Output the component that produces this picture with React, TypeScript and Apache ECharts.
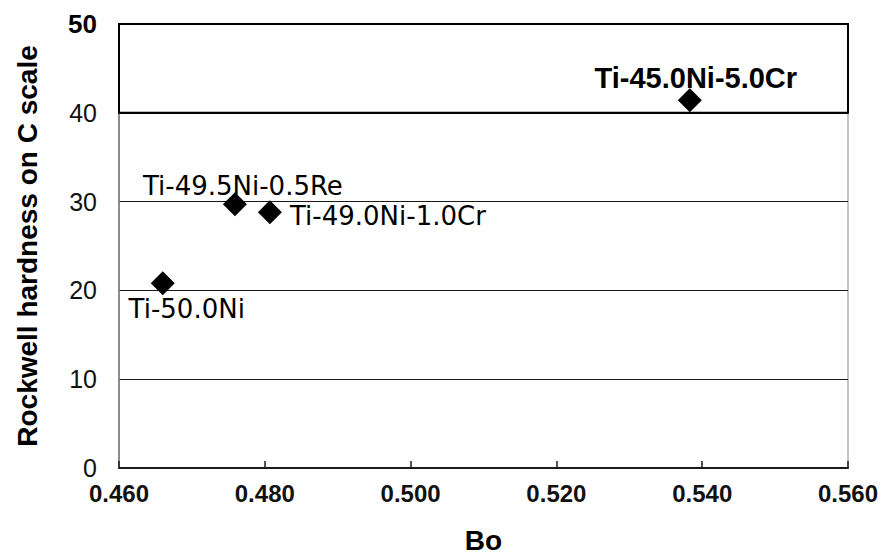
import React, { useEffect, useRef } from "react";
import * as echarts from "echarts";

// Alloy compositions, their Bo parameter and Rockwell C hardness
const alloys = ["Ti-50.0Ni", "Ti-49.5Ni-0.5Re", "Ti-49.0Ni-1.0Cr", "Ti-45.0Ni-5.0Cr"];
const boValues = [0.466, 0.4759, 0.4807, 0.5383];
const hardnessHRC = [20.8, 29.7, 28.8, 41.4];

const xTicks = [0.46, 0.48, 0.5, 0.52, 0.54, 0.56];
const yTicks = [0, 10, 20, 30, 40, 50];

// Where each composition label sits relative to its marker (px from the marker centre)
const labelOffsets: Record<string, { offset: [number, number]; bold?: boolean }> = {
  "Ti-50.0Ni": { offset: [24, 26] },
  "Ti-49.5Ni-0.5Re": { offset: [8, -18] },
  "Ti-49.0Ni-1.0Cr": { offset: [118, 4] },
  "Ti-45.0Ni-5.0Cr": { offset: [6, -22], bold: true },
};

export default function App() {
  const ref = useRef<HTMLDivElement>(null);

  useEffect(() => {
    if (!ref.current) return;
    const chart = echarts.init(ref.current, null, { renderer: "svg" });

    const points = alloys.map((name, i) => {
      const place = labelOffsets[name];
      return {
        name,
        value: [boValues[i], hardnessHRC[i]],
        label: {
          show: true,
          position: "inside",
          align: "center",
          verticalAlign: "middle",
          offset: place.offset,
          formatter: "{b}",
          color: "#000",
          fontFamily: place.bold ? "Liberation Sans" : "DejaVu Sans",
          fontWeight: place.bold ? "bold" : "normal",
          fontSize: place.bold ? 29 : 26,
        },
      };
    });

    chart.setOption({
      animation: false,
      backgroundColor: "#ffffff",
      grid: {
        left: 119,
        right: 38,
        top: 24,
        bottom: 88,
        show: true,
        borderColor: "#8a8a8a",
        borderWidth: 1,
        backgroundColor: "transparent",
      },
      xAxis: {
        type: "value",
        min: xTicks[0],
        max: xTicks[xTicks.length - 1],
        interval: 0.02,
        name: "Bo",
        nameLocation: "middle",
        nameGap: 58,
        nameTextStyle: {
          fontFamily: "Liberation Sans",
          fontWeight: "bold",
          fontSize: 28,
          color: "#000",
        },
        axisLine: { show: true, onZero: false, lineStyle: { color: "#1a1a1a", width: 2 } },
        axisTick: { show: true, inside: true, length: 7, lineStyle: { color: "#1a1a1a", width: 1.5 } },
        splitLine: { show: false },
        axisLabel: {
          margin: 13,
          fontFamily: "Liberation Sans",
          fontWeight: "bold",
          fontSize: 24,
          color: "#111",
          formatter: (v: number) => v.toFixed(3),
        },
      },
      yAxis: {
        type: "value",
        min: yTicks[0],
        max: yTicks[yTicks.length - 1],
        interval: 10,
        name: "Rockwell hardness on C scale",
        nameLocation: "middle",
        nameGap: 78,
        nameTextStyle: {
          fontFamily: "Liberation Sans",
          fontWeight: "bold",
          fontSize: 28,
          color: "#000",
        },
        axisLine: { show: true, lineStyle: { color: "#7a7a7a", width: 1.5 } },
        axisTick: { show: false },
        splitLine: { show: true, lineStyle: { color: "#1a1a1a", width: 1 } },
        axisLabel: {
          margin: 22,
          fontFamily: "Liberation Sans",
          fontSize: 25,
          color: "#111",
          formatter: (v: number) => (v === 50 ? "{top|" + v + "}" : String(v)),
          rich: {
            top: {
              fontFamily: "Liberation Sans",
              fontWeight: "bold",
              fontSize: 26,
              color: "#000",
            },
          },
        },
      },
      series: [
        {
          type: "scatter",
          symbol: "diamond",
          symbolSize: [24, 24],
          itemStyle: { color: "#000", opacity: 1 },
          data: points,
          markArea: {
            silent: true,
            itemStyle: { color: "rgba(0,0,0,0)", borderColor: "#000", borderWidth: 2 },
            label: { show: false },
            data: [[{ xAxis: xTicks[0], yAxis: 40 }, { xAxis: xTicks[xTicks.length - 1], yAxis: 50 }]],
          },
        },
      ],
    });

    return () => chart.dispose();
  }, []);

  return (
    <div
      ref={ref}
      style={{ position: "fixed", left: 0, top: 0, width: 886, height: 559, background: "#fff" }}
    />
  );
}
